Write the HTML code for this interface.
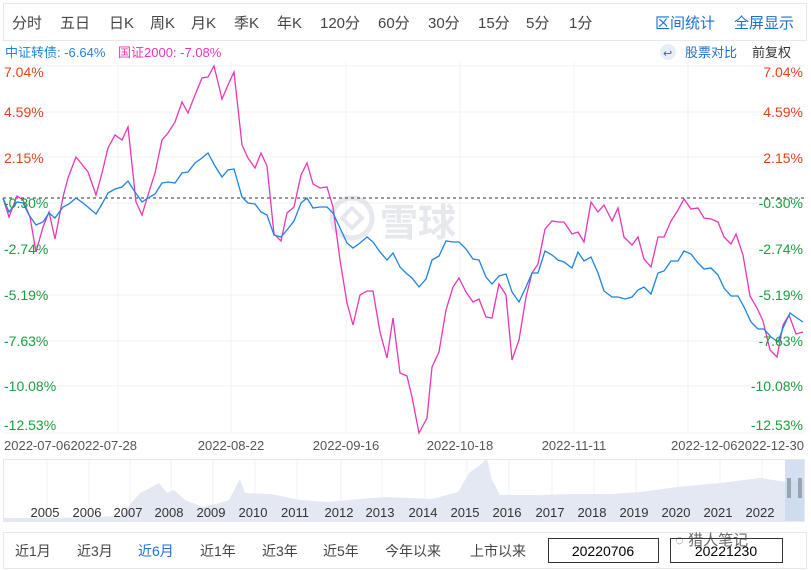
<!DOCTYPE html>
<html><head><meta charset="utf-8"><style>
body{margin:0;background:#fff;width:811px;height:570px;overflow:hidden;font-family:"Liberation Sans","Noto Sans CJK SC",sans-serif;}
svg{display:block}
</style></head><body>
<svg width="811" height="570" xmlns="http://www.w3.org/2000/svg" font-family="Liberation Sans, Noto Sans CJK SC, sans-serif">
<rect x="3.5" y="3.5" width="803" height="37" fill="#fff" stroke="#e6e8ec"/>
<g font-size="15" fill="#444">
<text x="12" y="28">分时</text><text x="60" y="28">五日</text><text x="109" y="28">日K</text><text x="150" y="28">周K</text><text x="191" y="28">月K</text><text x="234" y="28">季K</text><text x="277" y="28">年K</text><text x="320" y="28">120分</text><text x="378" y="28">60分</text><text x="428" y="28">30分</text><text x="478" y="28">15分</text><text x="526" y="28">5分</text><text x="569" y="28">1分</text>
</g>
<text x="655" y="28" font-size="15" fill="#1e6fd0">区间统计</text><text x="734" y="28" font-size="15" fill="#1e6fd0">全屏显示</text>
<text x="5" y="57" font-size="13" fill="#1e83e0">中证转债: -6.64%</text>
<text x="118" y="57" font-size="13" fill="#e936b6">国证2000: -7.08%</text>
<circle cx="668" cy="52" r="8" fill="#e8eef7"/><text x="663" y="57" font-size="11" fill="#1e6fd0">↩</text>
<text x="685" y="57" font-size="13" fill="#1e6fd0">股票对比</text><text x="752" y="57" font-size="13" fill="#333">前复权</text>
<g stroke="#f0f1f3" stroke-width="1">
<line x1="3" y1="66" x2="804" y2="66"/><line x1="3" y1="112" x2="804" y2="112"/><line x1="3" y1="157" x2="804" y2="157"/><line x1="3" y1="203" x2="804" y2="203"/><line x1="3" y1="249" x2="804" y2="249"/><line x1="3" y1="295" x2="804" y2="295"/><line x1="3" y1="341" x2="804" y2="341"/><line x1="3" y1="386" x2="804" y2="386"/><line x1="3" y1="433" x2="804" y2="433"/>
<line x1="118" y1="62" x2="118" y2="433"/><line x1="231" y1="62" x2="231" y2="433"/><line x1="346" y1="62" x2="346" y2="433"/><line x1="460" y1="62" x2="460" y2="433"/><line x1="574" y1="62" x2="574" y2="433"/><line x1="688" y1="62" x2="688" y2="433"/>
</g>
<g opacity="0.35">
<circle cx="352" cy="218" r="20" fill="none" stroke="#b8bfcc" stroke-width="5"/>
<path d="M342,218 L352,208 L362,218 L352,228 Z" fill="none" stroke="#b8bfcc" stroke-width="4"/>
<text x="380" y="236" font-size="38" fill="#b8bfcc" font-weight="bold">雪球</text>
</g>
<line x1="3" y1="198" x2="804" y2="198" stroke="#333" stroke-dasharray="3,3" stroke-width="1"/>
<polyline fill="none" stroke="#e936b6" stroke-width="1.3" points="3,198 9,217 17,196 23,200 30,217 36,252 43,227 49,212 55,239 63,197 68,178 76,157 88,172 96,195 102,173 108,148 115,135 122,140 128,127 136,202 142,215 148,195 155,173 162,140 168,133 175,122 182,102 188,113 195,95 202,78 208,77 214,66 222,99 228,85 234,72 242,145 248,158 255,168 261,153 267,166 274,234 281,241 287,213 294,207 301,175 307,163 313,184 320,188 327,187 333,207 340,260 347,303 353,325 360,295 367,291 373,291 380,332 387,358 393,318 400,373 407,376 412,397 419,433 427,418 432,367 439,352 446,310 453,287 459,278 466,292 473,302 479,299 486,317 492,318 499,284 506,295 512,360 519,340 526,297 532,273 538,264 545,229 552,221 558,222 564,222 572,234 578,232 584,242 591,202 598,212 604,205 612,221 618,208 624,237 632,245 638,237 644,259 651,267 658,237 664,237 671,221 678,210 684,199 691,209 698,208 704,218 711,219 718,222 724,237 731,244 736,234 743,255 750,296 757,308 763,321 770,350 777,357 783,325 789,315 796,334 803,332"/>
<polyline fill="none" stroke="#1e83e0" stroke-width="1.3" points="3,198 9,212 17,202 23,203 29,215 36,225 43,222 49,213 55,218 63,207 69,204 76,198 83,203 89,208 96,214 102,204 108,193 115,189 122,187 128,181 135,192 142,202 148,198 155,194 162,183 168,182 175,183 182,173 188,172 195,163 202,158 208,153 215,166 222,177 228,170 234,169 242,197 248,203 255,204 261,212 267,215 274,235 281,237 287,230 294,221 301,203 307,198 313,208 320,207 327,207 333,213 340,228 347,243 353,248 360,243 367,237 373,242 380,252 387,260 393,253 400,267 407,274 412,278 419,287 426,279 432,260 439,256 446,241 453,242 459,242 466,249 473,259 479,260 486,277 492,284 499,276 506,274 512,292 519,302 526,287 532,273 538,273 545,251 552,255 558,260 564,262 572,268 578,252 584,261 591,257 598,273 604,291 612,297 618,297 625,299 632,297 638,290 644,287 651,294 658,273 664,271 671,261 678,261 684,251 691,254 698,263 704,269 711,268 718,275 724,288 731,296 738,296 744,307 751,322 758,329 764,329 771,337 778,342 783,328 790,313 797,318 803,322"/>
<g font-size="14">
<text x="4" y="77" fill="#e8411d">7.04%</text><text x="4" y="117" fill="#e8411d">4.59%</text><text x="4" y="163" fill="#e8411d">2.15%</text>
<text x="4" y="208" fill="#1a9e3f">-0.30%</text><text x="4" y="254" fill="#1a9e3f">-2.74%</text><text x="4" y="300" fill="#1a9e3f">-5.19%</text><text x="4" y="346" fill="#1a9e3f">-7.63%</text><text x="4" y="391" fill="#1a9e3f">-10.08%</text><text x="4" y="430" fill="#1a9e3f">-12.53%</text>
</g>
<g font-size="14" text-anchor="end">
<text x="803" y="77" fill="#e8411d">7.04%</text><text x="803" y="117" fill="#e8411d">4.59%</text><text x="803" y="163" fill="#e8411d">2.15%</text>
<text x="803" y="208" fill="#1a9e3f">-0.30%</text><text x="803" y="254" fill="#1a9e3f">-2.74%</text><text x="803" y="300" fill="#1a9e3f">-5.19%</text><text x="803" y="346" fill="#1a9e3f">-7.63%</text><text x="803" y="391" fill="#1a9e3f">-10.08%</text><text x="803" y="430" fill="#1a9e3f">-12.53%</text>
</g>
<g font-size="13" fill="#555">
<text x="4" y="450">2022-07-062022-07-28</text>
<text x="231" y="450" text-anchor="middle">2022-08-22</text><text x="346" y="450" text-anchor="middle">2022-09-16</text><text x="460" y="450" text-anchor="middle">2022-10-18</text><text x="574" y="450" text-anchor="middle">2022-11-11</text>
<text x="804" y="450" text-anchor="end">2022-12-062022-12-30</text>
</g>
<rect x="3.5" y="459.5" width="801" height="62" fill="#fff" stroke="#e6e8ec"/>
<g stroke="#eef0f3"><line x1="47" y1="460" x2="47" y2="521"/><line x1="89" y1="460" x2="89" y2="521"/><line x1="130" y1="460" x2="130" y2="521"/><line x1="171" y1="460" x2="171" y2="521"/><line x1="213" y1="460" x2="213" y2="521"/><line x1="255" y1="460" x2="255" y2="521"/><line x1="297" y1="460" x2="297" y2="521"/><line x1="341" y1="460" x2="341" y2="521"/><line x1="382" y1="460" x2="382" y2="521"/><line x1="425" y1="460" x2="425" y2="521"/><line x1="467" y1="460" x2="467" y2="521"/><line x1="509" y1="460" x2="509" y2="521"/><line x1="552" y1="460" x2="552" y2="521"/><line x1="594" y1="460" x2="594" y2="521"/><line x1="636" y1="460" x2="636" y2="521"/><line x1="678" y1="460" x2="678" y2="521"/><line x1="720" y1="460" x2="720" y2="521"/><line x1="762" y1="460" x2="762" y2="521"/></g>
<path d="M4,521 L4,518 L60,518 L120,516 L140,493 L150,488 L159,483 L167,493 L174,490 L185,500 L203,507 L220,503 L229,500 L240,479 L245,493 L271,494 L300,500 L328,502 L360,499 L385,497 L432,499 L458,492 L469,473 L480,465 L487,459 L492,480 L500,495 L540,495 L573,494 L610,494 L641,492 L677,487 L720,483 L760,478 L786,482 L804,480 L804,521 Z" fill="#e4e8f3"/>
<rect x="785" y="460" width="19" height="61" fill="#c9d8ef" opacity="0.8"/>
<rect x="787" y="478" width="4" height="20" fill="#9aa3b0"/><rect x="798" y="478" width="4" height="20" fill="#9aa3b0"/>
<g font-size="13" fill="#333" text-anchor="middle">
<text x="45" y="517">2005</text><text x="87" y="517">2006</text><text x="128" y="517">2007</text><text x="169" y="517">2008</text><text x="211" y="517">2009</text><text x="253" y="517">2010</text><text x="295" y="517">2011</text><text x="339" y="517">2012</text><text x="380" y="517">2013</text><text x="423" y="517">2014</text><text x="465" y="517">2015</text><text x="507" y="517">2016</text><text x="550" y="517">2017</text><text x="592" y="517">2018</text><text x="634" y="517">2019</text><text x="676" y="517">2020</text><text x="718" y="517">2021</text><text x="760" y="517">2022</text>
</g>
<rect x="3.5" y="532.5" width="803" height="36" fill="#fff" stroke="#e6e8ec"/>
<g font-size="14" fill="#444">
<text x="15" y="556">近1月</text><text x="77" y="556">近3月</text><text x="138" y="556" fill="#1e6fd0">近6月</text><text x="200" y="556">近1年</text><text x="262" y="556">近3年</text><text x="323" y="556">近5年</text><text x="385" y="556">今年以来</text><text x="470" y="556">上市以来</text>
</g>
<rect x="548.5" y="538.5" width="110" height="24" fill="#fff" stroke="#333"/>
<rect x="670.5" y="538.5" width="112" height="24" fill="#fff" stroke="#333"/>
<text x="603" y="556" font-size="14" text-anchor="middle" fill="#000">20220706</text>
<text x="726" y="556" font-size="14" text-anchor="middle" fill="#000">20221230</text>
<text x="675" y="545" font-size="15" fill="#444" opacity="0.8">◌ 猎人笔记</text>
</svg>
</body></html>
